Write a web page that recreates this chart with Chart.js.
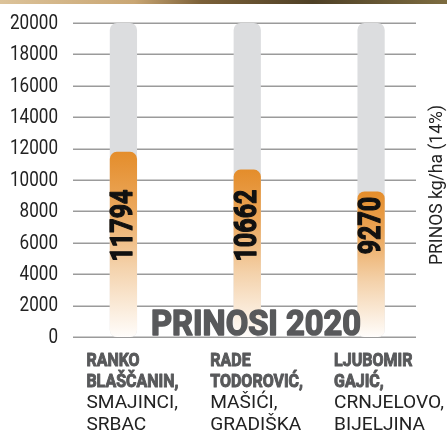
<!DOCTYPE html>
<html>
<head>
<meta charset="utf-8">
<script src="https://cdn.jsdelivr.net/npm/chart.js@4.4.0/dist/chart.umd.min.js"></script>
<style>
  body { margin: 0; background: #fff; }
  canvas { display: block; }
</style>
</head>
<body>
<canvas id="yieldChart" width="447" height="437"></canvas>
<script>
// prinosi 2020 - data
const farmers = ['RANKO BLAŠČANIN', 'RADE TODOROVIĆ', 'LJUBOMIR GAJIĆ'];
const nameLines = [['RANKO', 'BLAŠČANIN,'], ['RADE', 'TODOROVIĆ,'], ['LJUBOMIR', 'GAJIĆ,']];
const placeLines = [['SMAJINCI,', 'SRBAC'], ['MAŠIĆI,', 'GRADIŠKA'], ['CRNJELOVO,', 'BIJELJINA']];
const yields = [11794, 10662, 9270];
const yMax = 20000;
const yStep = 2000;
const labelAt = 7100; // value where the rotated numbers sit

// no narrow font installed, so text is squeezed horizontally
const FONT = "Roboto, 'Liberation Sans', sans-serif";

function squeeze(ctx, font, sample, width) {
    ctx.font = font;
    return width / ctx.measureText(sample).width;
}

// heavy = extra stroke to fake a black weight
function drawText(ctx, text, x, y, sx, align, heavy) {
    ctx.save();
    ctx.translate(x, y);
    ctx.scale(sx, 1);
    ctx.textAlign = align;
    ctx.fillText(text, 0, 0);
    if (heavy) {
        ctx.strokeStyle = ctx.fillStyle;
        ctx.lineWidth = heavy;
        ctx.lineJoin = 'round';
        ctx.strokeText(text, 0, 0);
    }
    ctx.restore();
}

// brownish photo strip along the top
const topStrip = {
    id: 'topStrip',
    beforeDraw(chart) {
        const ctx = chart.ctx;
        const g = ctx.createLinearGradient(0, 0, chart.width, 0);
        g.addColorStop(0, '#dcc39a');
        g.addColorStop(0.3, '#c9a673');
        g.addColorStop(0.45, '#7b6038');
        g.addColorStop(0.7, '#4e4026');
        g.addColorStop(1, '#7d6c40');
        ctx.save();
        ctx.fillStyle = g;
        ctx.fillRect(0, 0, chart.width, 4);
        ctx.restore();
    }
};

// gridlines are shorter than the plot area, tick labels are narrow
const yAxisDraw = {
    id: 'yAxisDraw',
    beforeDatasetsDraw(chart) {
        const ctx = chart.ctx;
        const y = chart.scales.y;
        ctx.save();
        ctx.strokeStyle = '#9b9b9b';
        ctx.lineWidth = 1.5;
        y.ticks.forEach(t => {
            const py = Math.round(y.getPixelForValue(t.value)) + 0.25;
            ctx.beginPath();
            ctx.moveTo(73, py);
            ctx.lineTo(416, py);
            ctx.stroke();
        });
        const font = '21px ' + FONT;
        const sx = squeeze(ctx, font, '20000', 48);
        ctx.font = font;
        ctx.fillStyle = '#222';
        ctx.textBaseline = 'middle';
        y.ticks.forEach(t => {
            drawText(ctx, String(t.value), 58, y.getPixelForValue(t.value) + 0.5, sx, 'right');
        });
        ctx.restore();
    }
};

const overlayText = {
    id: 'overlayText',
    afterDatasetsDraw(chart) {
        const ctx = chart.ctx;
        const x = chart.scales.x;
        const y = chart.scales.y;
        const bars = chart.getDatasetMeta(0).data;
        ctx.save();

        // big title
        let font = 'bold 35px ' + FONT;
        let sx = squeeze(ctx, font, 'PRINOSI 2020', 210);
        ctx.font = font;
        ctx.fillStyle = '#58595b';
        ctx.textBaseline = 'alphabetic';
        drawText(ctx, 'PRINOSI 2020', 151, 335, sx, 'left', 1.6);

        // values inside bars, reading bottom to top
        font = 'bold 32px ' + FONT;
        sx = squeeze(ctx, font, '10662', 72);
        ctx.font = font;
        ctx.fillStyle = '#111';
        ctx.textBaseline = 'middle';
        bars.forEach((bar, i) => {
            ctx.save();
            ctx.translate(bar.x + 1, y.getPixelForValue(labelAt));
            ctx.rotate(-Math.PI / 2);
            drawText(ctx, String(yields[i]), 0, 0, sx, 'center', 1.3);
            ctx.restore();
        });

        // category labels
        ctx.textBaseline = 'alphabetic';
        const boldFont = 'bold 19px ' + FONT;
        const regFont = '19px ' + FONT;
        const sxBold = squeeze(ctx, boldFont, 'BLAŠČANIN,', 92);
        const sxReg = squeeze(ctx, regFont, 'CRNJELOVO,', 110);
        farmers.forEach((f, i) => {
            const lx = x.getPixelForValue(i) - 37;
            ctx.fillStyle = '#58595b';
            ctx.font = boldFont;
            nameLines[i].forEach((s, j) => drawText(ctx, s, lx, 365.5 + j * 21.3, sxBold, 'left', 1));
            ctx.fillStyle = '#222';
            ctx.font = regFont;
            placeLines[i].forEach((s, j) => drawText(ctx, s, lx, 408.3 + j * 21.3, sxReg, 'left'));
        });

        // axis title on the right
        font = '19px ' + FONT;
        sx = squeeze(ctx, font, 'PRINOS kg/ha (14%)', 160);
        ctx.save();
        ctx.translate(437, 185);
        ctx.rotate(-Math.PI / 2);
        ctx.textBaseline = 'middle';
        ctx.fillStyle = '#222';
        ctx.font = font;
        drawText(ctx, 'PRINOS kg/ha (14%)', 0, 0, sx, 'center');
        ctx.restore();

        ctx.restore();
    }
};

function orangeFill(context) {
    const chart = context.chart;
    if (!chart.chartArea) return '#e8963a';
    const y = chart.scales.y;
    const top = y.getPixelForValue(yields[context.dataIndex]);
    const bottom = y.getPixelForValue(0);
    const g = chart.ctx.createLinearGradient(0, top, 0, bottom);
    g.addColorStop(0, '#e48d2b');
    g.addColorStop(0.3, '#eba75b');
    g.addColorStop(0.62, '#f4d2ab');
    g.addColorStop(1, '#fffdfb');
    return g;
}

const ctxYield = document.getElementById('yieldChart').getContext('2d');
const yieldChart = new Chart(ctxYield, {
    type: 'bar',
    data: {
        labels: farmers,
        datasets: [{
            label: 'Prinos',
            data: yields,
            backgroundColor: orangeFill,
            borderRadius: 7,
            borderSkipped: false,
            order: 1
        }, {
            label: 'Max',
            data: farmers.map(() => yMax),
            backgroundColor: '#dcdddf',
            borderRadius: 7,
            borderSkipped: false,
            order: 2
        }]
    },
    options: {
        responsive: false,
        animation: false,
        layout: { padding: { top: 23, right: 14, bottom: 100, left: 0 } },
        datasets: {
            bar: { grouped: false, categoryPercentage: 1, barPercentage: 0.22 }
        },
        plugins: {
            legend: { display: false },
            tooltip: { enabled: false }
        },
        scales: {
            x: { display: false },
            y: {
                min: 0,
                max: yMax,
                afterFit(scale) { scale.width = 61.5; },
                grid: { display: false },
                border: { display: false },
                ticks: { stepSize: yStep, display: false }
            }
        }
    },
    plugins: [topStrip, yAxisDraw, overlayText]
});
</script>
</body>
</html>
